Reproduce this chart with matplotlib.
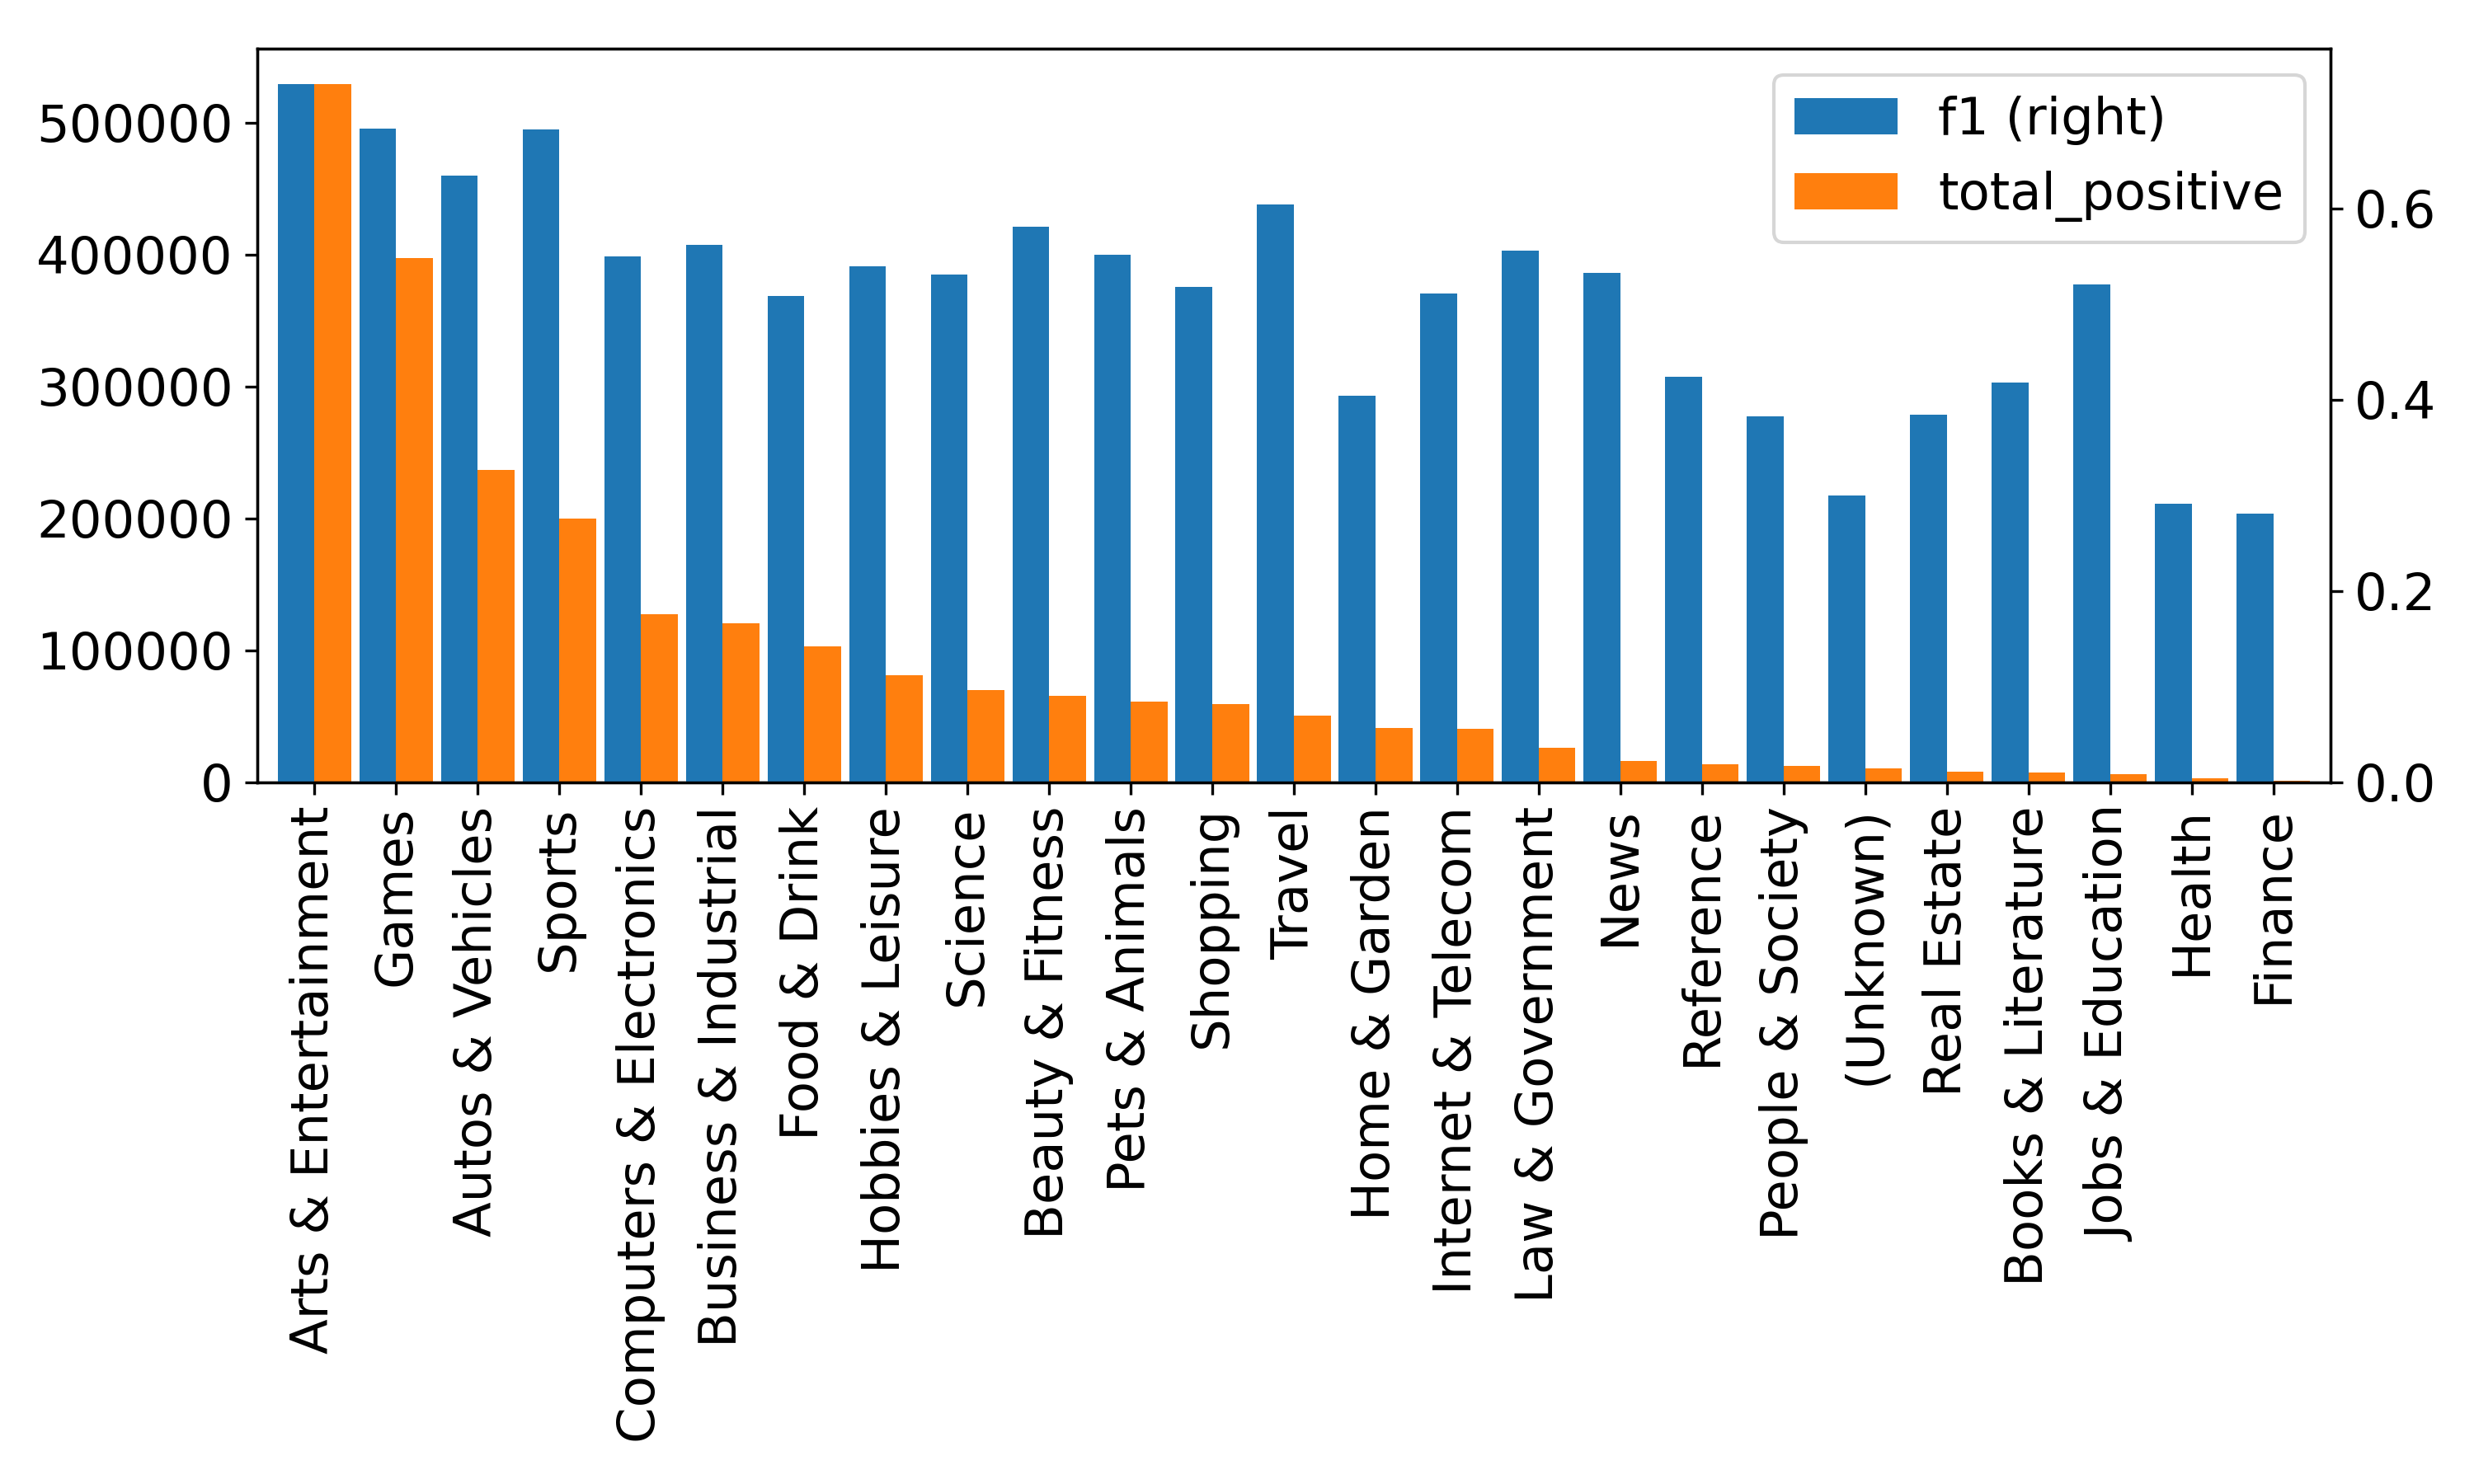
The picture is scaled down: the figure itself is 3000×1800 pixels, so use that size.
import matplotlib
matplotlib.use("Agg")
import matplotlib.pyplot as plt
import numpy as np

categories = ["Arts & Entertainment", "Games", "Autos & Vehicles", "Sports",
              "Computers & Electronics", "Business & Industrial", "Food & Drink",
              "Hobbies & Leisure", "Science", "Beauty & Fitness", "Pets & Animals",
              "Shopping", "Travel", "Home & Garden", "Internet & Telecom",
              "Law & Government", "News", "Reference", "People & Society",
              "(Unknown)", "Real Estate", "Books & Literature", "Jobs & Education",
              "Health", "Finance"]
f1 = [0.730, 0.683, 0.634, 0.682, 0.550, 0.562, 0.508, 0.539, 0.531, 0.581,
      0.551, 0.518, 0.604, 0.404, 0.511, 0.556, 0.532, 0.424, 0.382, 0.300,
      0.384, 0.418, 0.520, 0.291, 0.281]
total_positive = [529400, 397300, 236400, 199700, 127100, 120700, 102700, 81200,
                  69600, 65200, 61300, 59300, 50100, 41300, 40500, 26100, 16100,
                  13800, 12500, 10600, 8100, 7000, 6100, 2600, 1000]

plt.rcParams["font.size"] = 15
fig = plt.figure(figsize=(10, 6), dpi=300)
ax = fig.add_axes([0.104, 0.473, 0.838, 0.494])
ax2 = ax.twinx()

x = np.arange(len(categories))
w = 0.45
b1 = ax2.bar(x - w / 2, f1, width=w, color="#1f77b4", label="f1 (right)")
b2 = ax.bar(x + w / 2, total_positive, width=w, color="#ff7f0e", label="total_positive")

ax.set_xlim(-0.7, len(categories) - 0.3)
ax.set_xticks(x)
ax.set_xticklabels(categories, rotation=90)
ax2.legend([b1, b2], ["f1 (right)", "total_positive"], loc="upper right")

fig.savefig("out.png", dpi=300, facecolor="white")
